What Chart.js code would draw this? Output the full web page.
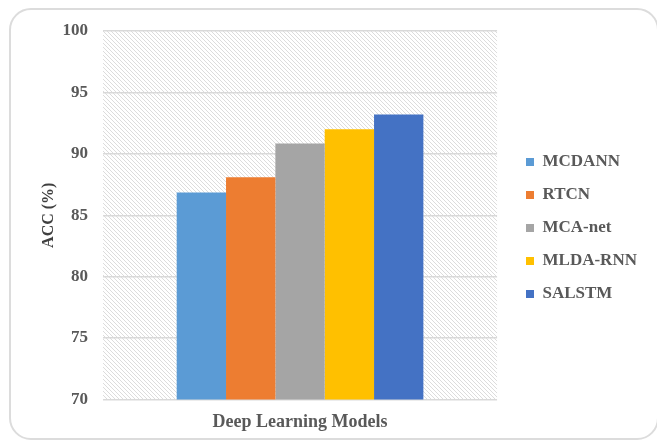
<!DOCTYPE html>
<html>
<head>
<meta charset="utf-8">
<script src="https://cdn.jsdelivr.net/npm/chart.js@4/dist/chart.umd.min.js"></script>
<style>
  html, body { margin: 0; padding: 0; background: #fff; overflow: hidden; }
  #frame {
    position: absolute; left: 9px; top: 8px; width: 650px; height: 432px;
    border: 2px solid #dcdcdc; border-radius: 22px; box-sizing: border-box;
  }
  #accChart { position: absolute; left: 0; top: 0; }
</style>
</head>
<body>
<div id="frame"></div>
<canvas id="accChart" width="657" height="443"></canvas>
<script>
const models = ['MCDANN', 'RTCN', 'MCA-net', 'MLDA-RNN', 'SALSTM'];
const accuracy = [86.85, 88.1, 90.85, 92.0, 93.2];
const barColors = ['#5b9bd5', '#ed7d31', '#a5a5a5', '#ffc000', '#4472c4'];
const groupLabel = ['Deep Learning Models'];
const yMin = 70, yMax = 100, yStep = 5;

const serif = '"Liberation Serif", "Times New Roman", serif';

// diagonal hatch used behind the bars
function hatchPattern(ctx) {
  const tile = document.createElement('canvas');
  tile.width = 4; tile.height = 4;
  const t = tile.getContext('2d');
  t.fillStyle = '#ffffff';
  t.fillRect(0, 0, 4, 4);
  t.fillStyle = '#dcdcdc';
  for (let i = 0; i < 4; i++) t.fillRect(i, i, 1, 1);
  return ctx.createPattern(tile, 'repeat');
}

const plotBackground = {
  id: 'plotBackground',
  beforeDraw(chart) {
    const {ctx, chartArea: a} = chart;
    ctx.save();
    ctx.fillStyle = hatchPattern(ctx);
    ctx.fillRect(a.left, a.top, a.right - a.left, a.bottom - a.top);
    ctx.restore();
  }
};

// move the legend block next to the plot
const legendOffset = {
  id: 'legendOffset',
  afterLayout(chart) {
    const lg = chart.legend;
    const dx = 510 - lg.left;
    const dy = -9;
    lg.left += dx;
    lg.right += dx;
    lg.top += dy;
    lg.bottom += dy;
  }
};

new Chart(document.getElementById('accChart'), {
  type: 'bar',
  data: {
    labels: groupLabel,
    datasets: models.map((m, i) => ({
      label: m,
      data: [accuracy[i]],
      backgroundColor: barColors[i],
      borderWidth: 0,
      categoryPercentage: 0.626,
      barPercentage: 1.0
    }))
  },
  options: {
    responsive: false,
    animation: false,
    layout: { padding: { left: 0, top: 31, right: 23, bottom: 0 } },
    plugins: {
      tooltip: { enabled: false },
      legend: {
        position: 'right',
        align: 'center',
        labels: {
          boxWidth: 8,
          boxHeight: 8,
          padding: 16,
          color: '#595959',
          font: { family: serif, size: 17, weight: 'bold' }
        }
      }
    },
    scales: {
      x: {
        grid: { display: false, drawTicks: false },
        border: { display: false },
        ticks: {
          padding: 12,
          color: '#595959',
          font: { family: serif, size: 18, weight: 'bold' }
        },
        afterFit(scale) { scale.height = 43.5; }
      },
      y: {
        min: yMin,
        max: yMax,
        grid: { color: '#d9d9d9', lineWidth: 1.5, drawTicks: false },
        border: { display: false },
        ticks: {
          stepSize: yStep,
          padding: 15,
          color: '#595959',
          font: { family: serif, size: 17, weight: 'bold' }
        },
        title: {
          display: true,
          text: 'ACC (%)',
          color: '#404040',
          padding: { top: 39, bottom: 0 },
          font: { family: serif, size: 16, weight: 'bold' }
        },
        afterFit(scale) { scale.width = 103; }
      }
    }
  },
  plugins: [plotBackground, legendOffset]
});
</script>
</body>
</html>
